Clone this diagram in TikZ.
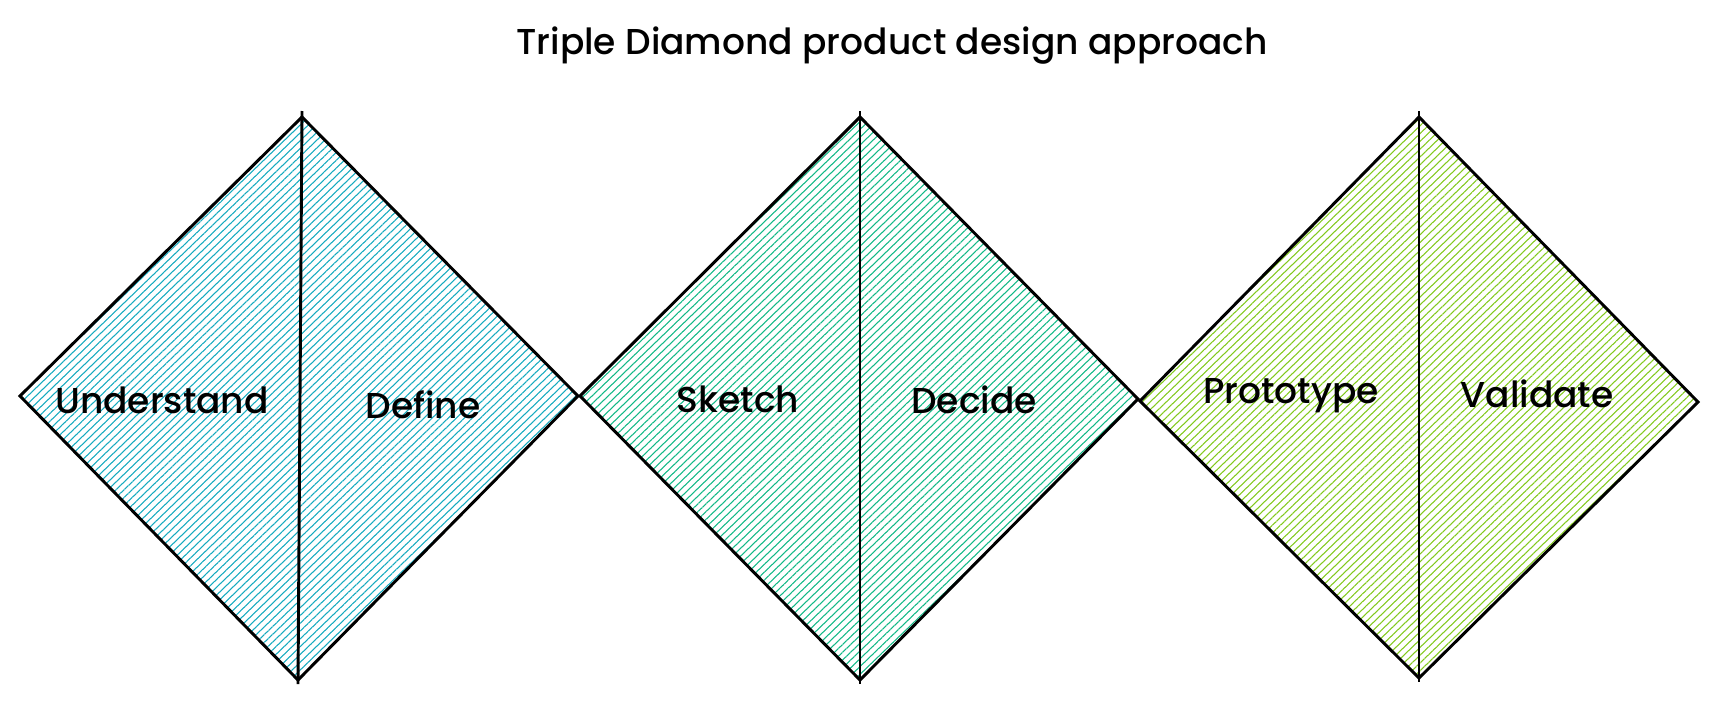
\documentclass[tikz,border=0pt]{standalone}
\usepackage{fontspec}
\setmainfont{Poppins Medium}
\usepackage{xcolor}
\usetikzlibrary{patterns.meta}

\definecolor{cyanhatch}{HTML}{15AABF}
\definecolor{tealhatch}{HTML}{12B886}
\definecolor{limehatch}{HTML}{82C91E}

\tikzset{
  hatch/.style={pattern={Lines[angle=44,distance=4.2pt,line width=0.8pt]},pattern color=#1},
  edge/.style={line width=2.2pt,line join=miter},
  phase/.style={inner sep=0.75pt,font=\fontsize{27}{32}\selectfont},
}

\begin{document}
\begin{tikzpicture}[x=0.75pt,y=0.75pt,yscale=-1,xscale=1]
\useasboundingbox (0,0) rectangle (1715,703);

% first diamond
\path[hatch=cyanhatch] (20,396) -- (302,117) -- (578,396) -- (298,680) -- cycle ;
\draw[edge] (20,396) -- (302,117) -- (578,396) -- (298,680) -- cycle ;
\draw[edge] (302,111) -- (298,684) ;

% second diamond
\path[hatch=tealhatch] (580,396) -- (860,117) -- (1138,399) -- (860,680) -- cycle ;
\draw[edge] (580,396) -- (860,117) -- (1138,399) -- (860,680) -- cycle ;
\draw[edge] (860,111) -- (860,684) ;

% third diamond
\path[hatch=limehatch] (1140,401) -- (1419,117) -- (1698,402) -- (1419,678) -- cycle ;
\draw[edge] (1140,401) -- (1419,117) -- (1698,402) -- (1419,678) -- cycle ;
\draw[edge] (1419,111) -- (1419,682) ;

\draw (892,46) node (title) [phase] {Triple Diamond product design approach};
\draw (162,400) node (understand) [phase] {Understand};
\draw (423,405) node (define) [phase] {Define};
\draw (738,399) node (sketch) [phase] {Sketch};
\draw (974,400) node (decide) [phase] {Decide};
\draw (1291,396) node (prototype) [phase] {Prototype};
\draw (1537,394) node (validate) [phase] {Validate};

\end{tikzpicture}
\end{document}
